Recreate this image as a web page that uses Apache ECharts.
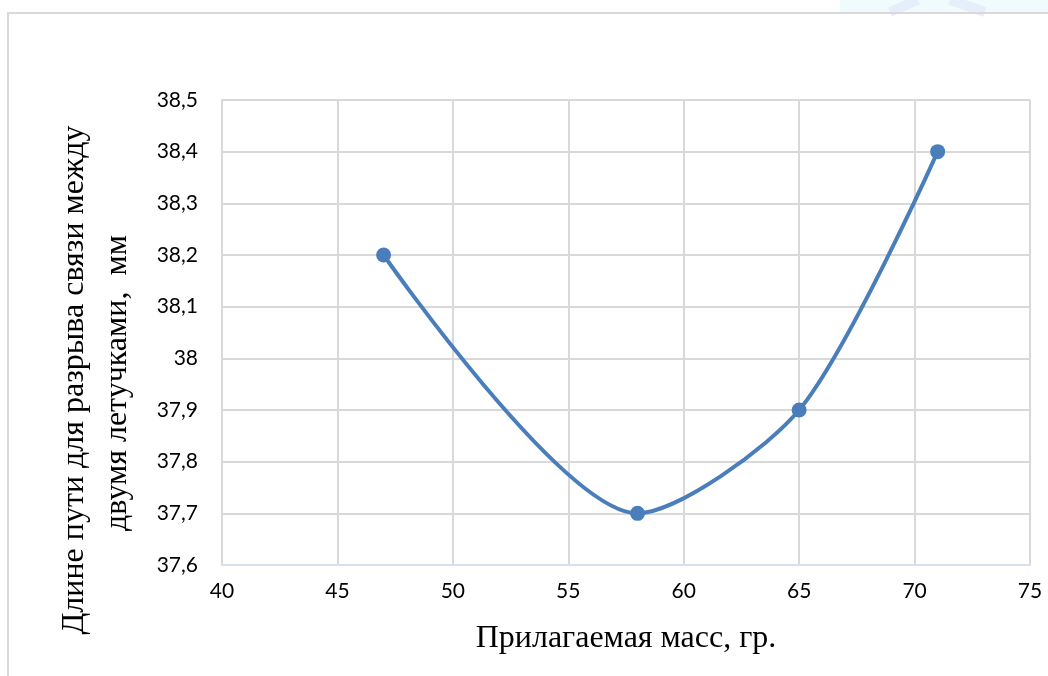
<!DOCTYPE html>
<html><head><meta charset="utf-8">
<script src="https://cdn.jsdelivr.net/npm/echarts@6/dist/echarts.min.js"></script>
<style>html,body{margin:0;padding:0;background:#fff}#c{width:1048px;height:676px}</style>
</head><body><div id="c"></div>
<script>
const xValues = [47, 58, 65, 71];
const yValues = [38.2, 37.7, 37.9, 38.4];
const xTitle = 'Прилагаемая масс, гр.';
const yTitleLine1 = 'Длине пути для разрыва связи между';
const yTitleLine2 = 'двумя летучками,  мм';

const chart = echarts.init(document.getElementById('c'), null, {renderer: 'canvas'});
const tickFont = {fontFamily: 'Lato, "Open Sans", sans-serif', fontSize: 21, color: '#000'};
const titleFont = '32px "Liberation Serif", "Times New Roman", serif';
chart.setOption({
  animation: false,
  graphic: [
    {type: 'rect', shape: {x: 840, y: 0, width: 220, height: 12}, style: {fill: '#f0fbfe'}, silent: true},
    {type: 'polyline', shape: {points: [[890, 12], [918, 0]]}, style: {stroke: '#e6eefb', lineWidth: 10, fill: 'none'}, silent: true},
    {type: 'polyline', shape: {points: [[950, 0], [985, 12]]}, style: {stroke: '#e6eefb', lineWidth: 10, fill: 'none'}, silent: true},
    {type: 'rect', shape: {x: 8, y: 13, width: 1200, height: 800}, style: {fill: 'none', stroke: '#d9d9d9', lineWidth: 2}, silent: true},
    {type: 'text', x: 75, y: 380, rotation: Math.PI / 2, style: {text: yTitleLine1, font: titleFont, fill: '#000', align: 'center', verticalAlign: 'middle'}},
    {type: 'text', x: 118, y: 383, rotation: Math.PI / 2, style: {text: yTitleLine2, font: titleFont, fill: '#000', align: 'center', verticalAlign: 'middle'}}
  ],
  grid: {left: 222, right: 18, top: 100, bottom: 111, containLabel: false},
  xAxis: {
    type: 'value', min: 40, max: 75, interval: 5,
    name: xTitle, nameLocation: 'middle', nameGap: 58,
    nameTextStyle: {fontFamily: '"Liberation Serif", serif', fontSize: 32, color: '#000'},
    axisLine: {show: true, onZero: false, lineStyle: {color: '#d6e0f0', width: 2}},
    axisTick: {show: false},
    axisLabel: Object.assign({margin: 16, formatter: v => String(v)}, tickFont),
    splitLine: {show: true, lineStyle: {color: '#d9d9d9', width: 2}}
  },
  yAxis: {
    type: 'value', min: 37.6, max: 38.5, interval: 0.1,
    axisLine: {show: true, lineStyle: {color: '#d9d9d9', width: 2}},
    axisTick: {show: false},
    axisLabel: Object.assign({margin: 24, formatter: v => String(Math.round(v * 10) / 10).replace('.', ',')}, tickFont),
    splitLine: {show: true, lineStyle: {color: '#d9d9d9', width: 2}}
  },
  series: [{
    type: 'line', smooth: 0.27,
    data: xValues.map((x, i) => [x, yValues[i]]),
    symbol: 'circle', symbolSize: 15,
    lineStyle: {color: '#4a7ebb', width: 4},
    itemStyle: {color: '#4a7ebb'}
  }]
});
</script></body></html>
